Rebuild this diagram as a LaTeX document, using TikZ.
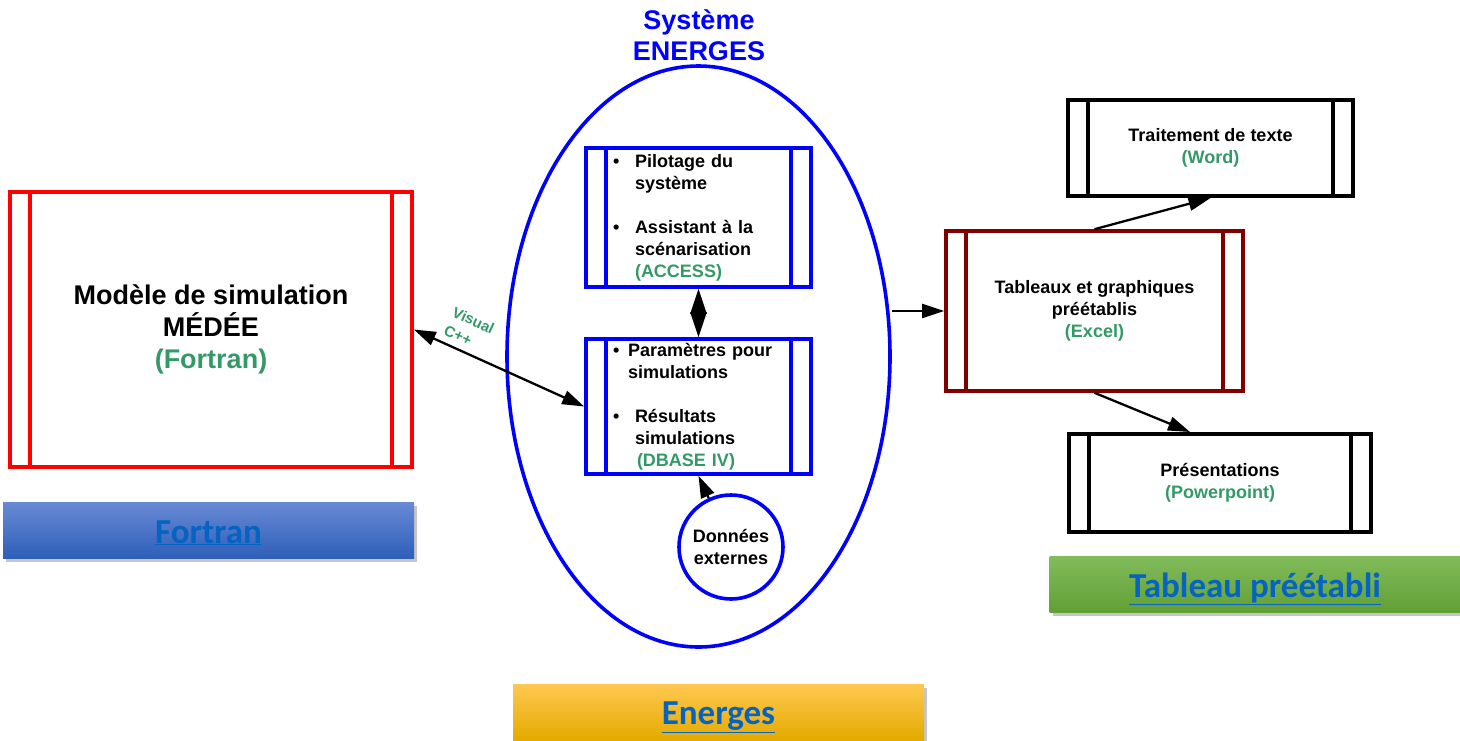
\documentclass[tikz,border=0pt]{standalone}
\usepackage{fontspec}
\setmainfont{Liberation Sans}
\newfontfamily\bandfont{Carlito}
\usetikzlibrary{arrows.meta,shapes.geometric,shadows}

\definecolor{txtgreen}{RGB}{51,153,102}
\definecolor{linkblue}{RGB}{5,99,193}
\definecolor{darkred}{RGB}{128,0,0}

\tikzset{
  procbox/.style={draw=#1, line width=3.6pt, inner sep=0pt, align=center,
    font=\bfseries\fontsize{18}{22}\selectfont,
    path picture={
      \draw[#1, line width=3.6pt] ([xshift=20pt]path picture bounding box.north west) -- ([xshift=20pt]path picture bounding box.south west);
      \draw[#1, line width=3.6pt] ([xshift=-20pt]path picture bounding box.north east) -- ([xshift=-20pt]path picture bounding box.south east);
    }},
  band/.style={minimum width=411pt, minimum height=56pt, inner sep=0pt,
    text height=30pt, text depth=4pt,
    drop shadow={shadow xshift=3pt, shadow yshift=-4pt, opacity=0.45},
    font=\bandfont\bfseries\fontsize{35}{40}\selectfont, text=linkblue},
  arr/.style={line width=2.3pt, -{Triangle[length=22pt,width=14pt]}},
  dblarr/.style={line width=2.3pt, {Triangle[length=22pt,width=14pt]}-{Triangle[length=22pt,width=14pt]}},
}

\begin{document}
\begin{tikzpicture}[x=1pt, y=-1pt]
      \useasboundingbox (0,0) rectangle (1460,740);

      % Fortran side
      \node[procbox=red, minimum width=402pt, minimum height=275pt, font=\bfseries\fontsize{27}{32}\selectfont] (model) at (211,329.5) {Modèle de simulation\\MÉDÉE\\\textcolor{txtgreen}{(Fortran)}};
      \node[band, top color={rgb,255:red,104;green,138;blue,212}, bottom color={rgb,255:red,47;green,95;blue,185}] (fortran) at (208.5,530) {\underline{Fortran}};

      % Energes system
      \node[text=blue, align=center, font=\bfseries\fontsize{27}{31}\selectfont] (systitle) at (699,35.5) {Système\\ENERGES};
      \node[draw=blue, line width=3.6pt, ellipse, inner sep=0pt, minimum width=383pt, minimum height=581pt] (sys) at (698.5,356.5) {};
      \node[procbox=blue, minimum width=225pt, minimum height=139pt, text width=171pt, align=left] (pilot) at (698.5,217.5) {%
        \makebox[22pt][l]{•}Pilotage du\\
        \hspace*{22pt}système\\[22pt]
        \makebox[22pt][l]{•}Assistant à la\\
        \hspace*{22pt}scénarisation\\
        \hspace*{22pt}\textcolor{txtgreen}{(ACCESS)}};
      \node[procbox=blue, minimum width=225pt, minimum height=135pt, text width=171pt, align=left] (params) at (698.5,406.5) {%
        \makebox[15pt][l]{•}Paramètres pour\\
        \hspace*{15pt}simulations\\[22pt]
        \makebox[22pt][l]{•}Résultats\\
        \hspace*{22pt}simulations\\
        \hspace*{24pt}\textcolor{txtgreen}{(DBASE IV)}};
      \node[draw=blue, line width=3.6pt, circle, inner sep=0pt, minimum size=104pt, align=center, font=\bfseries\fontsize{18}{22}\selectfont] (ext) at (731,547) {Données\\externes};
      \node[band, text height=29pt, top color={rgb,255:red,255;green,200;blue,80}, middle color={rgb,255:red,255;green,192;blue,0}, bottom color={rgb,255:red,228;green,170;blue,0}] (energes) at (718.5,712) {\underline{Energes}};

      % office side
      \node[procbox=darkred, minimum width=297pt, minimum height=160pt] (excel) at (1094.5,311) {Tableaux et graphiques\\préétablis\\\textcolor{txtgreen}{(Excel)}};
      \node[procbox=black, line width=4pt, minimum width=285pt, minimum height=96pt] (word) at (1210.5,148) {Traitement de texte\\\textcolor{txtgreen}{(Word)}};
      \node[procbox=black, line width=4pt, minimum width=302pt, minimum height=98pt] (pres) at (1220,483) {Présentations\\\textcolor{txtgreen}{(Powerpoint)}};
      \node[band, top color={rgb,255:red,130;green,188;blue,92}, bottom color={rgb,255:red,98;green,160;blue,52}] (tableau) at (1255,584) {\underline{Tableau préétabli}};

      \draw[dblarr] (model.east) -- node[pos=0.27, above=3pt, sloped, align=left, text=txtgreen, font=\bfseries\fontsize{15}{20}\selectfont] (vcpp) {Visual\\C++} (params.west);
      \draw[line width=2.3pt, {Triangle[length=25pt,width=16pt]}-{Triangle[length=25pt,width=16pt]}] (pilot.south) -- (params.north);
      \draw[arr] (ext) -- (params.south);
      \draw[arr] (sys.east |- excel.west) -- (excel.west);
      \draw[arr] (excel.north) -- (word.south);
      \draw[arr] (excel.south) -- ([xshift=-30pt]pres.north);
    \end{tikzpicture}
\end{document}
